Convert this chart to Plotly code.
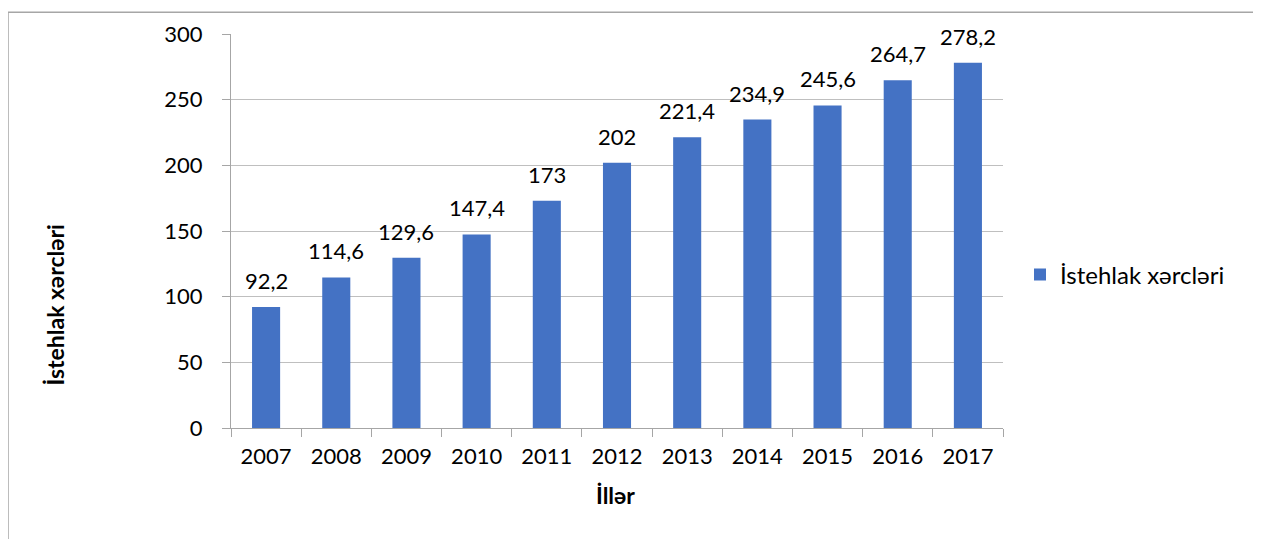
import plotly.graph_objects as go

years = ["2007", "2008", "2009", "2010", "2011", "2012", "2013", "2014", "2015", "2016", "2017"]
values = [92.2, 114.6, 129.6, 147.4, 173, 202, 221.4, 234.9, 245.6, 264.7, 278.2]
series_name = "İstehlak xərcləri"
x_title = "İllər"
y_title = "İstehlak xərcləri"

labels = [f"{v:g}".replace(".", ",") for v in values]

OFF = 8  # page body margin offset
W, H = 1261, 539
L, R, T, B = 231 - OFF, 1003 - OFF, 29 - OFF, 428 - OFF  # plot area pixels (figure coords)
pw, ph = R - L, B - T

def px(x):
    return (x - OFF - L) / pw

def py(y):
    return (B - (y - OFF)) / ph

FONT = "Lato"
FS = 22

fig = go.Figure()
fig.add_trace(go.Bar(
    x=years, y=values, name=series_name,
    marker=dict(color="#4472C4", line=dict(width=0)),
    width=0.4,
    showlegend=True,
))

# data labels: category index positions on the category axis
label_annotations = [
    dict(x=i, y=v, xref="x", yref="y", text=lab, showarrow=False,
         xanchor="center", yanchor="bottom", yshift=11,
         font=dict(size=FS, family=FONT, color="#000000"))
    for i, (v, lab) in enumerate(zip(values, labels))
]

fig.update_layout(
    width=W, height=H,
    margin=dict(l=L, r=W - R, t=T, b=H - B, pad=0),
    paper_bgcolor="white", plot_bgcolor="white",
    font=dict(family=FONT, size=FS, color="#000000"),
    showlegend=True,
    legend=dict(x=px(1020), y=py(273), xanchor="left", yanchor="middle",
                font=dict(size=24, family=FONT, color="#000000"),
                bgcolor="rgba(0,0,0,0)", itemwidth=30),
    xaxis=dict(
        type="category", range=[-0.5, len(years) - 0.5],
        showgrid=False, showline=True, linecolor="#A6A6A6", linewidth=1,
        ticks="outside", tickson="boundaries", ticklen=8, tickcolor="#A6A6A6",
        tickfont=dict(size=FS, family=FONT, color="#000000"), ticklabelstandoff=9,
        fixedrange=True,
    ),
    yaxis=dict(
        range=[0, 300], dtick=50, tick0=0, showgrid=True, gridcolor="#BFBFBF", gridwidth=1,
        showline=True, linecolor="#A6A6A6", linewidth=1,
        ticks="outside", ticklen=8, tickcolor="#A6A6A6",
        tickfont=dict(size=FS, family=FONT, color="#000000"), ticklabelstandoff=15,
        zeroline=False, fixedrange=True,
    ),
    annotations=label_annotations + [
        dict(text=f"<b>{y_title}</b>", x=px(55), y=py(304), xref="paper", yref="paper",
             textangle=-90, showarrow=False, xanchor="center", yanchor="middle",
             font=dict(size=23, family=FONT, color="#000000")),
        dict(text=f"<b>{x_title}</b>", x=px(615), y=py(496), xref="paper", yref="paper",
             showarrow=False, xanchor="center", yanchor="middle",
             font=dict(size=23, family=FONT, color="#000000")),
    ],
    shapes=[
        dict(type="rect", xref="paper", yref="paper",
             x0=px(8), x1=px(1254), y0=py(580), y1=py(7),
             line=dict(color="#A6A6A6", width=1.5), fillcolor="rgba(0,0,0,0)", layer="below"),
    ],
)

fig.write_html("out.html")
